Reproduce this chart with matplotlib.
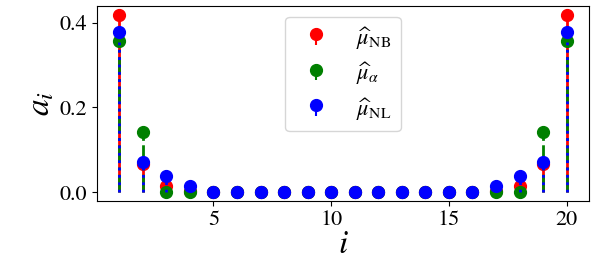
import matplotlib
matplotlib.use("Agg")
import matplotlib.pyplot as plt
import numpy as np

plt.rcParams['font.family'] = 'serif'
plt.rcParams['font.serif'] = ['STIXGeneral', 'Liberation Serif']
plt.rcParams['mathtext.fontset'] = 'stix'

idx = np.arange(1, 21)
# coefficients (symmetric about the centre)
a_nb = [0.419, 0.066, 0.015, 0.003, 0, 0, 0, 0, 0, 0,
        0, 0, 0, 0, 0, 0, 0.003, 0.015, 0.066, 0.419]
a_alpha = [0.358, 0.143, 0.001, 0.0, 0, 0, 0, 0, 0, 0,
           0, 0, 0, 0, 0, 0, 0.0, 0.001, 0.143, 0.358]
a_nl = [0.378, 0.071, 0.037, 0.015, 0.001, 0.001, 0.001, 0.001, 0.001, 0.001,
        0.001, 0.001, 0.001, 0.001, 0.001, 0.001, 0.015, 0.037, 0.071, 0.378]

fig, ax = plt.subplots(figsize=(5.98, 2.68), dpi=100)
fig.subplots_adjust(left=0.162, right=0.985, top=0.978, bottom=0.25)

series = [
    (a_nb, 'r-', 'ro', r'$\widehat{\mu}_{\mathrm{NB}}$'),
    (a_alpha, 'g-.', 'go', r'$\widehat{\mu}_{\alpha}$'),
    (a_nl, 'b:', 'bo', r'$\widehat{\mu}_{\mathrm{NL}}$'),
]
for vals, lf, mf, lab in series:
    m, s, b = ax.stem(idx, vals, linefmt=lf, markerfmt=mf, basefmt=' ', label=lab)
    m.set_markersize(8.5)
    s.set_linewidth(2)

ax.set_xticks([5, 10, 15, 20])
ax.set_yticks([0.0, 0.2, 0.4])
ax.tick_params(labelsize=16)
ax.set_xlabel('$i$', fontsize=24, labelpad=0)
ax.set_ylabel('$a_i$', fontsize=24, labelpad=2)
ax.legend(loc='upper center', fontsize=16, borderaxespad=0.5, labelspacing=0.4)

fig.savefig('out.png', dpi=100)
